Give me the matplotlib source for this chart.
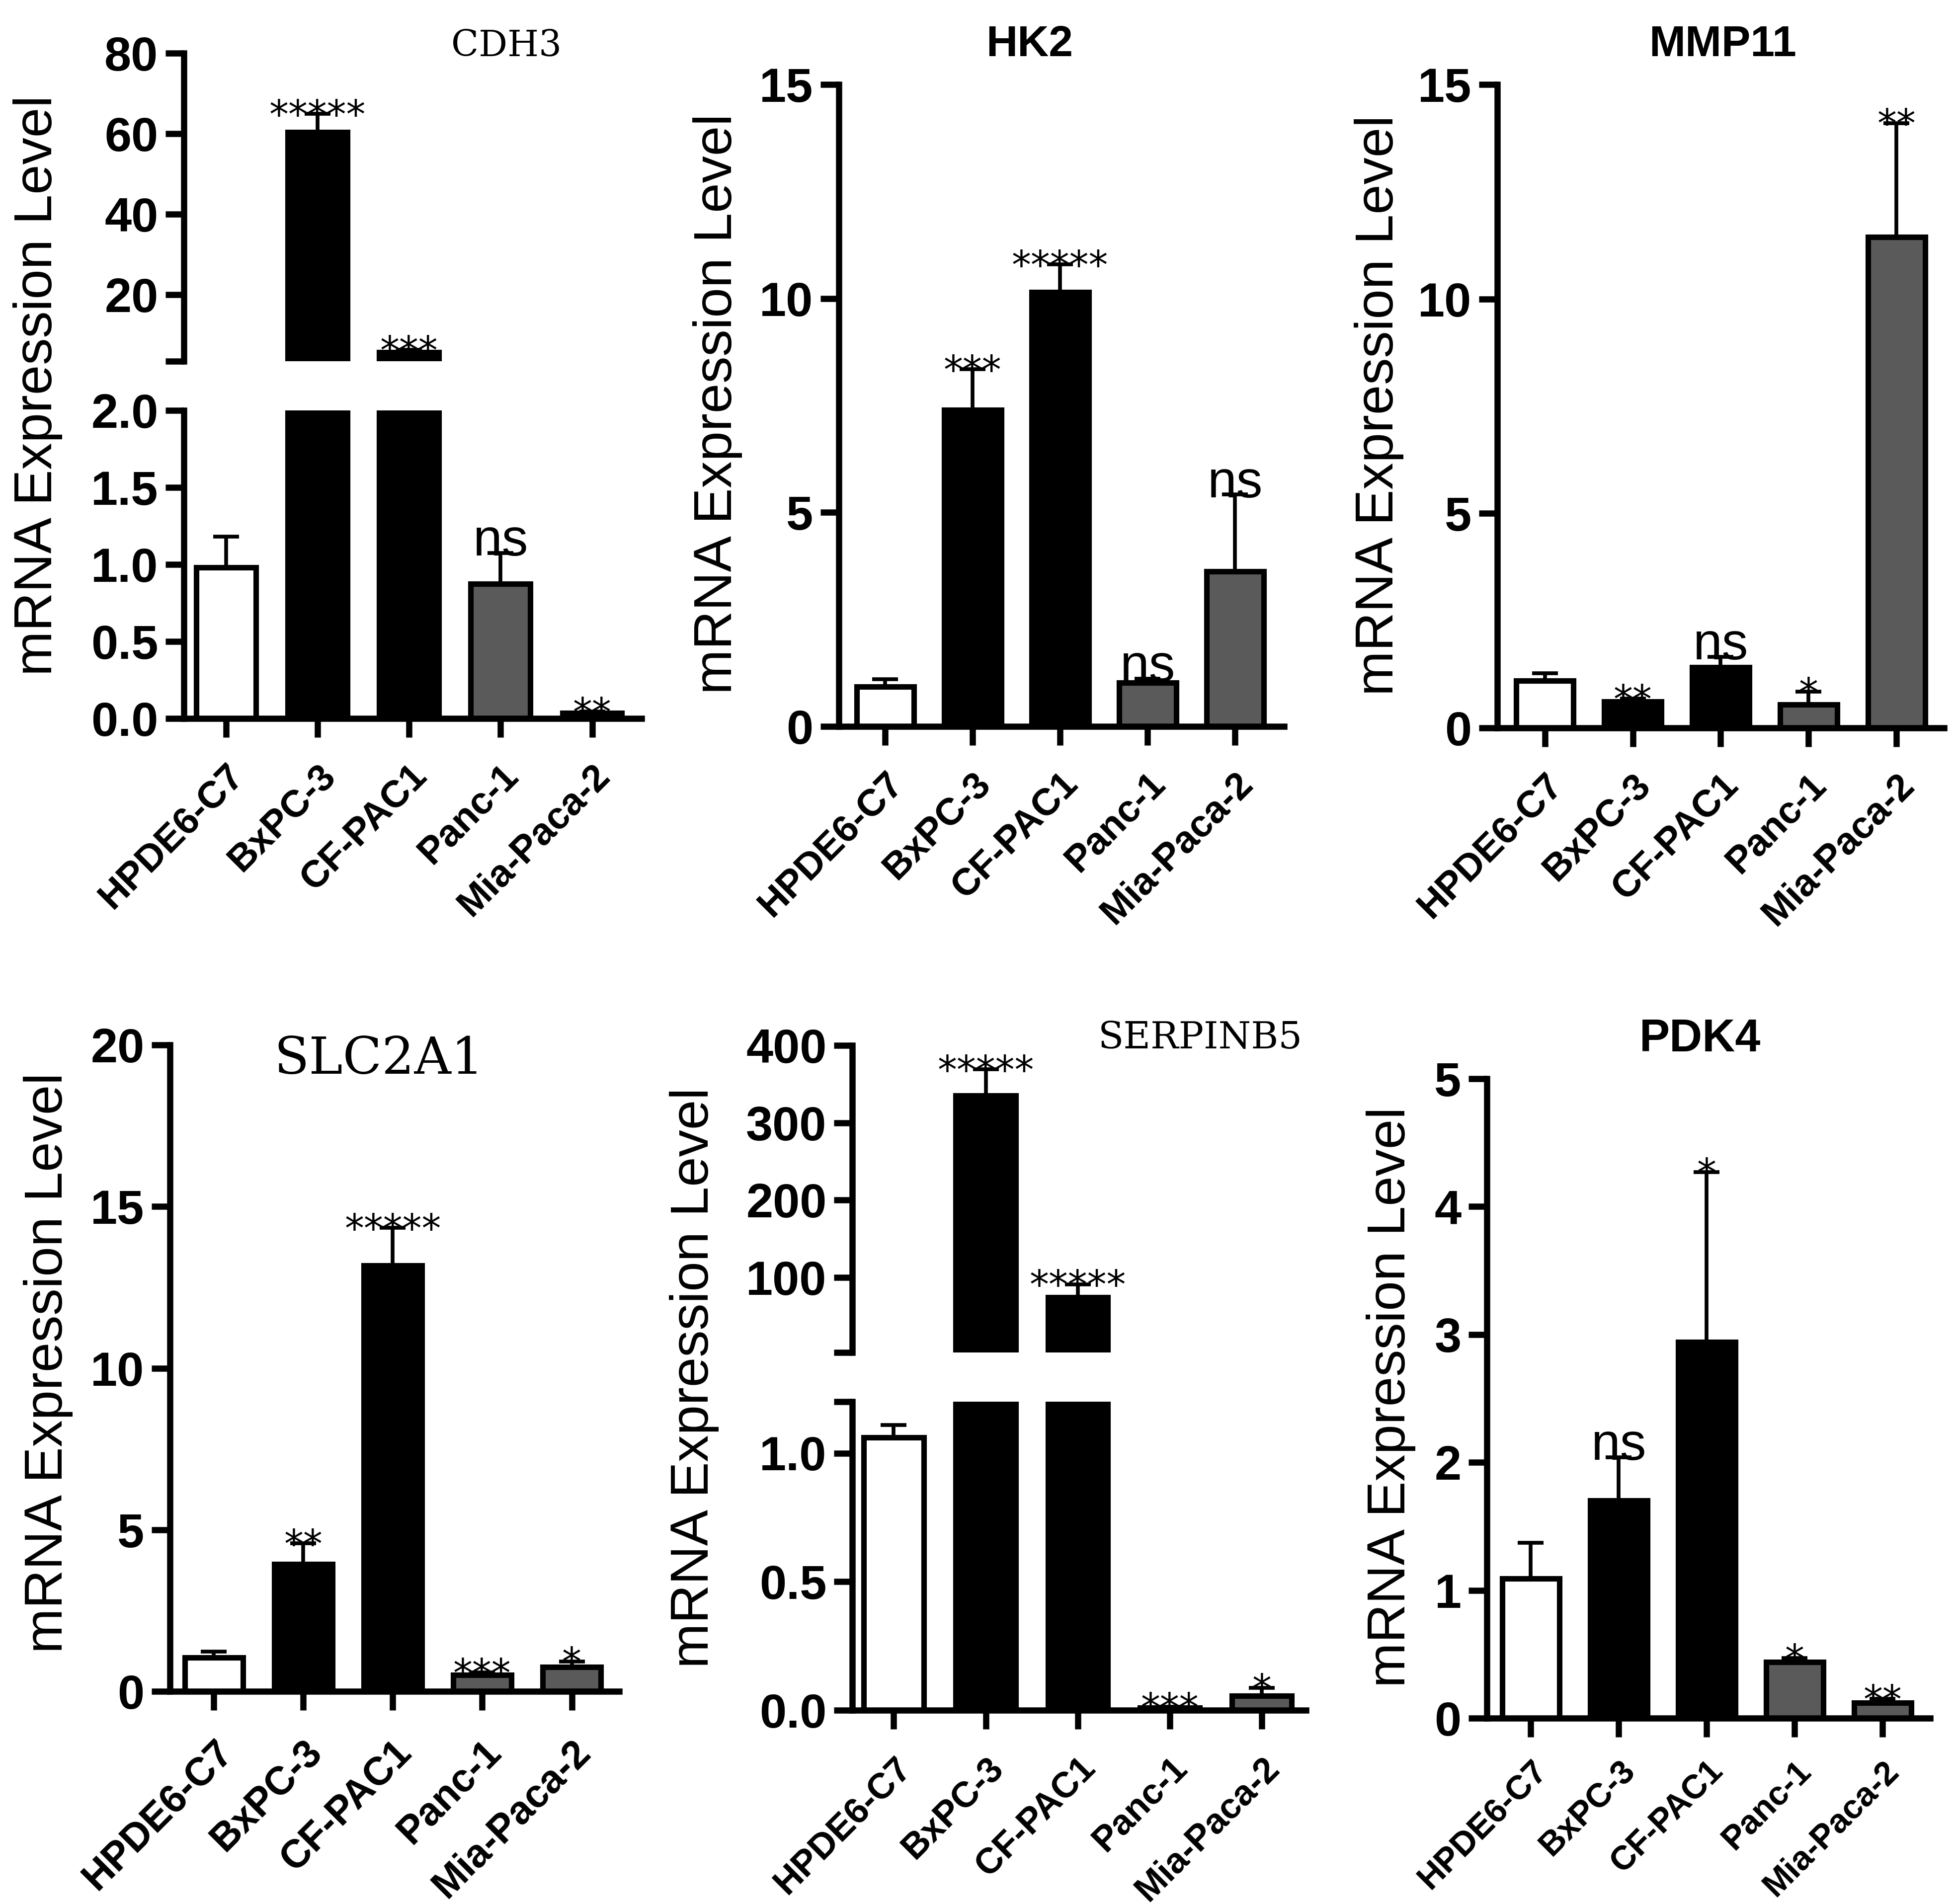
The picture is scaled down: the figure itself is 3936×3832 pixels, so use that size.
import matplotlib
matplotlib.use('Agg')
import matplotlib.pyplot as plt
import numpy as np

# cell lines and bar fills
cells = ['HPDE6-C7', 'BxPC-3', 'CF-PAC1', 'Panc-1', 'Mia-Paca-2']
bar_colors = ['white', 'black', 'black', '#5a5a5a', '#5a5a5a']

# CDH3 (broken axis)
cdh3_mean = [0.98, 60.4, 5.6, 0.875, 0.035]
cdh3_err = [0.2, 4.5, 0.6, 0.2, 0.01]
cdh3_sig = ['', '*****', '***', 'ns', '**']

# HK2
hk2_mean = [0.93, 7.4, 10.15, 1.02, 3.62]
hk2_err = [0.17, 0.95, 0.65, 0.1, 1.8]
hk2_sig = ['', '***', '*****', 'ns', 'ns']

# MMP11
mmp11_mean = [1.1, 0.61, 1.41, 0.54, 11.44]
mmp11_err = [0.17, 0.07, 0.25, 0.3, 2.66]
mmp11_sig = ['', '**', 'ns', '*', '**']

# SLC2A1
slc2a1_mean = [1.05, 3.93, 13.17, 0.5, 0.76]
slc2a1_err = [0.18, 0.65, 1.17, 0.08, 0.17]
slc2a1_sig = ['', '**', '*****', '***', '*']

# SERPINB5 (broken axis)
serpinb5_mean = [1.06, 335, 74.4, 0.01, 0.056]
serpinb5_err = [0.05, 34, 17, 0.003, 0.03]
serpinb5_sig = ['', '*****', '*****', '***', '*']

# PDK4
pdk4_mean = [1.09, 1.70, 2.94, 0.44, 0.12]
pdk4_err = [0.28, 0.34, 1.33, 0.03, 0.03]
pdk4_sig = ['', 'ns', '*', '*', '**']

# y ticks
ticks_15 = [0, 5, 10, 15]
ticks_20 = [0, 5, 10, 15, 20]
ticks_5 = [0, 1, 2, 3, 4, 5]
cdh3_hi_ticks = [3.4, 20, 40, 60, 80]
cdh3_hi_labels = ['', '20', '40', '60', '80']
cdh3_lo_ticks = [0, 0.5, 1.0, 1.5, 2.0]
cdh3_lo_labels = ['0.0', '0.5', '1.0', '1.5', '2.0']
serp_hi_ticks = [3.1, 100, 200, 300, 400]
serp_hi_labels = ['', '100', '200', '300', '400']
serp_lo_ticks = [0, 0.5, 1.0, 1.2]
serp_lo_labels = ['0.0', '0.5', '1.0', '']

W, H = 3937, 3832
fig = plt.figure(figsize=(W / 100, H / 100), dpi=100)


def box(l, r, top, bot):
    # pixel box -> figure fraction
    return [l / W, 1 - bot / H, (r - l) / W, (bot - top) / H]


def style(ax, xlim, show_x=True, xsize=55, xpad=30):
    ax.set_xlim(*xlim)
    ax.spines['top'].set_visible(False)
    ax.spines['right'].set_visible(False)
    ax.spines['left'].set_linewidth(9)
    ax.spines['bottom'].set_linewidth(9)
    ax.tick_params(axis='both', width=9, length=27, direction='out', colors='black')
    ax.tick_params(axis='y', pad=10)
    ax.tick_params(axis='x', pad=xpad)
    ax.set_xticks(range(len(cells)))
    if show_x:
        ax.set_xticklabels(cells, rotation=45, ha='right', va='top',
                           rotation_mode='anchor', fontsize=xsize,
                           fontweight='bold', family='Liberation Sans')
    else:
        ax.spines['bottom'].set_visible(False)
        ax.tick_params(axis='x', bottom=False, labelbottom=False)


def yticks(ax, ticks, labels=None):
    ax.set_yticks(ticks)
    if labels is None:
        labels = [str(t) for t in ticks]
    ax.set_yticklabels(labels, fontsize=70, fontweight='bold',
                       family='Liberation Sans')


def draw_bars(ax, mean, err, floor=None):
    x = np.arange(len(cells))
    m = np.array(mean, dtype=float)
    e = np.array(err, dtype=float)
    c = np.array(bar_colors)
    keep = np.ones(len(m), dtype=bool) if floor is None else m > floor
    ax.bar(x[keep], m[keep], width=0.65, color=c[keep], edgecolor='black',
           linewidth=8, zorder=2)
    ax.errorbar(x[keep], m[keep], yerr=[np.zeros(keep.sum()), e[keep]],
                fmt='none', ecolor='black', elinewidth=5.5, capsize=19,
                capthick=5.5, zorder=3)


def mark(ax, i, top, s):
    if s == 'ns':
        ax.annotate(s, xy=(i, top), xytext=(0, -4), textcoords='offset points',
                    ha='center', va='baseline', fontsize=76,
                    family='Liberation Sans', fontweight='normal',
                    annotation_clip=False, zorder=4)
    else:
        ax.annotate(s, xy=(i, top), xytext=(0, -20), textcoords='offset points',
                    ha='center', va='baseline', fontsize=56,
                    family='DejaVu Sans', fontweight='normal',
                    annotation_clip=False, zorder=4)


def marks(axes_list, mean, err, sig):
    # axes_list: [(ax, ymax)] from bottom to top
    for i, s in enumerate(sig):
        if not s:
            continue
        top = mean[i] + err[i]
        target = axes_list[-1][0]
        for ax, ymax in axes_list:
            if top <= ymax:
                target = ax
                break
        mark(target, i, top, s)


def ylabel(xb, yc):
    fig.text(xb / W, 1 - yc / H, 'mRNA Expression Level', rotation=90,
             ha='center', va='baseline', rotation_mode='anchor',
             fontsize=78, family='Liberation Sans')


def title(cx, yb, text, serif, size):
    if serif:
        fig.text(cx / W, 1 - yb / H, text, ha='center', va='baseline',
                 fontsize=size, family='DejaVu Serif')
    else:
        fig.text(cx / W, 1 - yb / H, text, ha='center', va='baseline',
                 fontsize=size, family='Liberation Sans', fontweight='bold')


def simple_panel(l, r, top, bot, xlim, mean, err, sig, ticks, ymax,
                 xsize=55, xpad=30):
    ax = fig.add_axes(box(l, r, top, bot))
    style(ax, xlim, xsize=xsize, xpad=xpad)
    draw_bars(ax, mean, err)
    ax.set_ylim(0, ymax)
    yticks(ax, ticks)
    marks([(ax, ymax)], mean, err, sig)
    return ax


def broken_panel(l, r, hi_top, hi_bot, lo_top, lo_bot, xlim, mean, err, sig,
                 lo_lim, hi_lim, lo_t, lo_l, hi_t, hi_l, xsize=55, xpad=30):
    lo = fig.add_axes(box(l, r, lo_top, lo_bot))
    hi = fig.add_axes(box(l, r, hi_top, hi_bot))
    style(lo, xlim, xsize=xsize, xpad=xpad)
    style(hi, xlim, show_x=False)
    draw_bars(lo, mean, err)
    draw_bars(hi, mean, err, floor=hi_lim[0])
    lo.set_ylim(*lo_lim)
    hi.set_ylim(*hi_lim)
    yticks(lo, lo_t, lo_l)
    yticks(hi, hi_t, hi_l)
    marks([(lo, lo_lim[1]), (hi, hi_lim[1])], mean, err, sig)


# top row
broken_panel(370, 1291, 107, 727, 826, 1446, (-0.46, 4.54),
             cdh3_mean, cdh3_err, cdh3_sig, (0, 2.0), (3.4, 80),
             cdh3_lo_ticks, cdh3_lo_labels, cdh3_hi_ticks, cdh3_hi_labels)
ylabel(104, 776)
title(1019, 112, 'CDH3', True, 52)

simple_panel(1688, 2584, 170, 1462, (-0.53, 4.56),
             hk2_mean, hk2_err, hk2_sig, ticks_15, 15)
ylabel(1472, 813)
title(2072, 113, 'HK2', False, 63)

simple_panel(3013, 3912, 170, 1465, (-0.54, 4.54),
             mmp11_mean, mmp11_err, mmp11_sig, ticks_15, 15)
ylabel(2803, 816)
title(3467, 113, 'MMP11', False, 63)

# bottom row
simple_panel(342, 1246, 2103, 3404, (-0.49, 4.53),
             slc2a1_mean, slc2a1_err, slc2a1_sig, ticks_20, 20,
             xsize=57, xpad=34)
ylabel(125, 2743)
title(762, 2161, 'SLC2A1', True, 74)

broken_panel(1715, 2628, 2104, 2722, 2821, 3442, (-0.45, 4.48),
             serpinb5_mean, serpinb5_err, serpinb5_sig, (0, 1.2), (3.1, 400),
             serp_lo_ticks, serp_lo_labels, serp_hi_ticks, serp_hi_labels,
             xsize=52, xpad=32)
ylabel(1425, 2773)
title(2415, 2110, 'SERPINB5', True, 54)

simple_panel(2992, 3884, 2171, 3458, (-0.50, 4.54),
             pdk4_mean, pdk4_err, pdk4_sig, ticks_5, 5,
             xsize=49, xpad=26)
ylabel(2827, 2812)
title(3421, 2116, 'PDK4', False, 66)

fig.savefig('out.png', dpi=100, facecolor='white')
